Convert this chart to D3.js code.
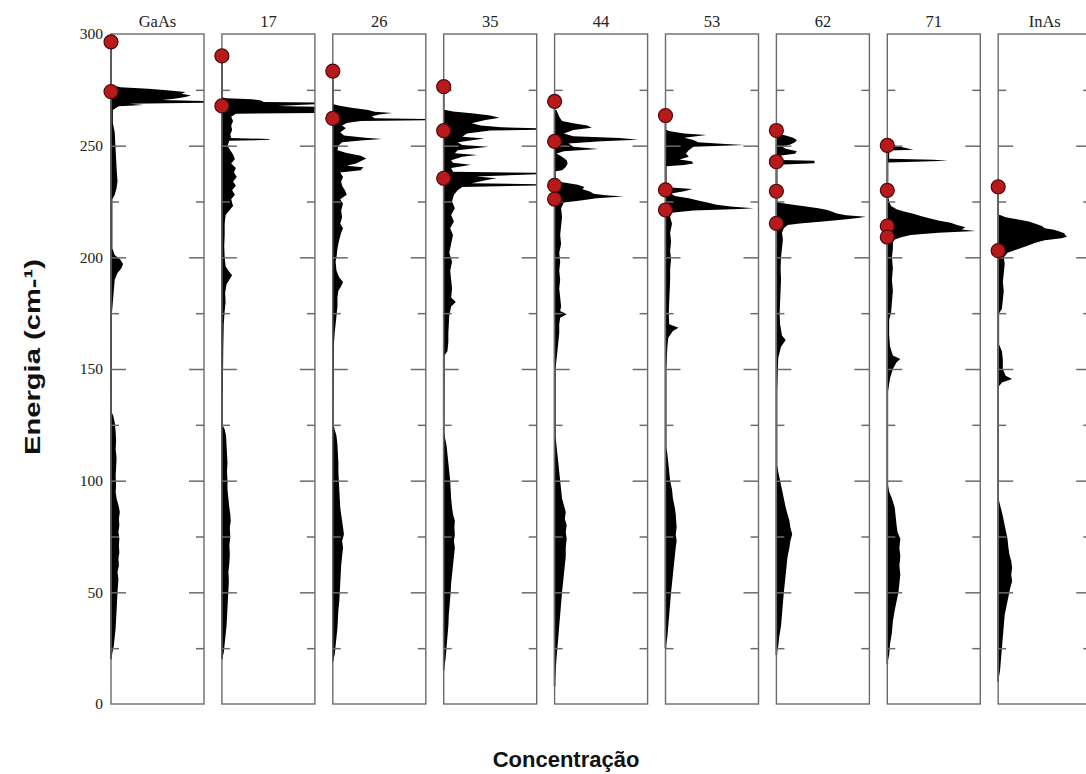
<!DOCTYPE html>
<html lang="pt">
<head>
<meta charset="UTF-8">
<title>Energia x Concentração</title>
<style>
  body { margin: 0; background: #fff; }
  .frame { fill: none; stroke: #6b6b6b; stroke-width: 1.4; }
  .ticks line { stroke: #6b6b6b; stroke-width: 1.5; }
  .dos { fill: #000; }
  .axisline { stroke: #000; stroke-width: 1.6; }
  .mode { fill: #b81a1c; stroke: #4e0808; stroke-width: 1.2; }
  .ylab text { font-family: "Liberation Serif", "Times New Roman", serif; font-size: 15.5px; fill: #222; }
  .ptitle { font-family: "Liberation Serif", "Times New Roman", serif; font-size: 16.5px; fill: #222; }
  .axis-title { font-family: "Liberation Sans", Arial, sans-serif; font-weight: bold; font-size: 22px; fill: #111; }
</style>
</head>
<body>
<script src="https://cdn.jsdelivr.net/npm/d3@7/dist/d3.min.js"></script>
<script>

// panel titles (concentration of In)
var labels = ["GaAs", "17", "26", "35", "44", "53", "62", "71", "InAs"];

// y axis labels / ticks (cm^-1)
var labelTicks = [0, 50, 100, 150, 200, 250, 300];
var majorTicks = [50, 100, 150, 200, 250];
var minorTicks = [25, 75, 125, 175, 225, 275];

// density of states, [energia, valor] (valor: fraction of panel width)
var dosGaAs = [[20,0],[22,0.01],[26,0.03],[30,0.04],[34,0.05],[38,0.055],[42,0.06],[46,0.065],[50,0.07],[53,0.075],[56,0.08],[59,0.07],[62,0.085],[65,0.08],[68,0.09],[71,0.085],[74,0.09],[77,0.08],[80,0.09],[83,0.085],[86,0.095],[89,0.08],[92,0.06],[95,0.05],[98,0.055],[102,0.05],[106,0.055],[110,0.06],[114,0.05],[118,0.055],[122,0.05],[126,0.04],[129,0.025],[131,0.004],[145,0.008],[175,0.01],[180,0.02],[185,0.03],[190,0.04],[193,0.07],[195,0.11],[197,0.13],[199,0.1],[201,0.04],[204,0.015],[226,0.015],[228,0.04],[231,0.06],[234,0.07],[237,0.065],[240,0.06],[244,0.055],[248,0.05],[252,0.045],[256,0.04],[260,0.02],[266,0.02],[267.6,0.08],[268.2,0.35],[268.8,0.2],[269.3,1.05],[270,1.05],[270.4,0.55],[271,0.68],[271.8,0.8],[272.5,0.86],[273.2,0.76],[274,0.8],[274.8,0.6],[275.5,0.4],[276.2,0.1],[277,0.01]];
var dos17 = [[20,0],[23,0.02],[27,0.03],[31,0.04],[35,0.05],[39,0.055],[43,0.06],[47,0.065],[51,0.07],[55,0.075],[59,0.07],[63,0.08],[67,0.085],[71,0.08],[75,0.09],[79,0.085],[82,0.095],[85,0.09],[88,0.08],[92,0.07],[96,0.06],[100,0.06],[104,0.055],[108,0.06],[112,0.055],[116,0.05],[120,0.045],[123,0.03],[125,0.004],[135,0.005],[140,0.01],[160,0.015],[170,0.02],[176,0.03],[180,0.04],[184,0.035],[188,0.05],[190,0.08],[192,0.11],[194,0.07],[196,0.04],[200,0.03],[205,0.025],[210,0.03],[215,0.03],[219,0.04],[221,0.08],[223,0.12],[226,0.1],[228,0.14],[230,0.11],[232,0.15],[234,0.12],[236,0.16],[238,0.13],[240,0.15],[242,0.1],[244,0.14],[246,0.12],[248,0.09],[250,0.06],[252.2,0.08],[252.6,0.52],[253,0.5],[253.4,0.1],[255,0.09],[257,0.11],[259,0.1],[261,0.12],[263,0.1],[264.3,0.15],[264.7,1.05],[267.4,1.05],[267.8,0.6],[268.3,0.87],[268.7,1.05],[269.3,1.05],[269.6,0.45],[270.2,0.42],[270.8,0.32],[271.2,0.05],[271.6,0.01]];
var dos26 = [[19,0],[22,0.02],[26,0.03],[30,0.04],[34,0.05],[38,0.055],[42,0.06],[46,0.07],[50,0.075],[54,0.08],[58,0.085],[62,0.09],[66,0.1],[70,0.11],[73,0.1],[76,0.12],[79,0.11],[82,0.1],[85,0.09],[88,0.08],[92,0.075],[96,0.07],[100,0.065],[104,0.06],[108,0.06],[112,0.055],[116,0.05],[120,0.04],[123,0.02],[125,0.004],[160,0.01],[166,0.02],[170,0.03],[174,0.04],[178,0.05],[182,0.05],[185,0.06],[187,0.09],[189,0.11],[191,0.07],[194,0.04],[198,0.03],[200,0.04],[204,0.05],[208,0.07],[211,0.09],[213,0.11],[215,0.08],[218,0.1],[221,0.09],[224,0.11],[226,0.08],[228,0.15],[230,0.13],[232,0.1],[234,0.09],[236,0.11],[238,0.08],[239,0.3],[240.3,0.33],[241,0.15],[242,0.25],[243,0.3],[244.3,0.36],[245.5,0.3],[246.7,0.15],[248,0.05],[250,0.06],[251.5,0.1],[252.3,0.3],[253,0.53],[253.6,0.35],[254.5,0.12],[256,0.08],[257.8,0.14],[259,0.1],[260.2,0.15],[261,0.3],[261.4,1.05],[261.9,1.05],[262.3,0.45],[263.2,0.42],[264,0.5],[264.6,0.64],[265.2,0.45],[266,0.38],[267,0.2],[268,0.06],[268.5,0.01]];
var dos35 = [[15,0],[20,0.02],[25,0.03],[30,0.04],[35,0.05],[40,0.055],[45,0.065],[50,0.075],[54,0.08],[58,0.09],[62,0.1],[66,0.11],[70,0.12],[73,0.11],[76,0.12],[79,0.115],[82,0.12],[85,0.1],[88,0.09],[92,0.08],[96,0.075],[100,0.07],[104,0.06],[108,0.05],[112,0.04],[116,0.03],[119,0.015],[122,0.004],[156,0.008],[158,0.04],[162,0.05],[166,0.05],[170,0.055],[174,0.06],[178,0.08],[180,0.13],[182,0.08],[186,0.09],[190,0.08],[194,0.07],[198,0.09],[202,0.06],[206,0.08],[210,0.1],[213,0.07],[216,0.11],[219,0.08],[222,0.12],[225,0.09],[228,0.11],[230,0.15],[231.5,0.2],[232.2,1.05],[232.7,1.05],[233.2,0.3],[234.5,0.45],[235.4,0.57],[236.2,0.35],[237.3,1.05],[237.8,1.05],[238.3,0.1],[240,0.08],[240.8,0.2],[241.5,0.29],[242.3,0.1],[243.5,0.08],[245,0.2],[245.8,0.36],[246.6,0.12],[248,0.15],[249.5,0.48],[250.3,0.2],[251.5,0.15],[253.2,0.44],[254,0.2],[255.5,0.25],[256.8,0.5],[257.2,1.05],[257.7,1.05],[258.2,0.62],[259,0.4],[260,0.3],[261.5,0.45],[262.5,0.6],[263.5,0.5],[264.5,0.3],[265.3,0.1],[266,0.02]];
var dos44 = [[8,0],[14,0.01],[20,0.02],[25,0.03],[30,0.04],[35,0.05],[40,0.06],[45,0.07],[50,0.08],[54,0.09],[58,0.1],[62,0.11],[66,0.12],[70,0.12],[74,0.13],[77,0.12],[80,0.13],[83,0.11],[86,0.12],[89,0.1],[92,0.08],[96,0.07],[100,0.06],[104,0.05],[108,0.04],[112,0.03],[116,0.02],[120,0.01],[150,0.01],[158,0.03],[162,0.04],[166,0.05],[170,0.05],[173,0.06],[174.5,0.13],[176,0.06],[178,0.07],[182,0.06],[186,0.05],[190,0.06],[194,0.05],[198,0.06],[202,0.05],[206,0.07],[210,0.06],[214,0.07],[218,0.08],[222,0.07],[224.5,0.1],[225.6,0.3],[226.5,0.45],[227.2,0.74],[227.8,0.55],[228.5,0.42],[229.5,0.38],[230.5,0.3],[231.5,0.32],[232.5,0.25],[233.5,0.1],[234.2,0.01],[238.5,0.01],[239,0.08],[240.5,0.12],[242,0.14],[243.5,0.13],[245,0.08],[246.5,0.02],[247.5,0.1],[248.5,0.47],[249.5,0.2],[251,0.15],[252,0.5],[252.6,0.9],[253.4,0.7],[254.2,0.2],[255.5,0.1],[257,0.2],[258,0.4],[259,0.35],[260,0.2],[261,0.08],[263,0.05],[266,0.02]];
var dos53 = [[25,0],[30,0.02],[35,0.03],[40,0.04],[45,0.05],[50,0.06],[54,0.07],[58,0.08],[62,0.09],[66,0.1],[70,0.11],[73,0.12],[76,0.11],[79,0.12],[82,0.115],[85,0.11],[88,0.1],[92,0.08],[96,0.07],[100,0.05],[104,0.04],[108,0.03],[112,0.02],[115,0.008],[150,0.008],[160,0.02],[164,0.03],[167,0.08],[168.5,0.14],[170,0.04],[175,0.035],[180,0.04],[185,0.045],[190,0.05],[195,0.05],[199,0.06],[203,0.05],[207,0.06],[211,0.05],[215,0.07],[218,0.05],[220,0.06],[221,0.3],[221.6,0.8],[222,0.95],[222.8,0.7],[223.6,0.55],[224.5,0.45],[225.5,0.35],[226.5,0.25],[227.5,0.1],[228.6,0.06],[229.6,0.2],[230.6,0.29],[231.3,0.05],[232,0.01],[240.8,0.01],[241.3,0.2],[242,0.3],[243,0.28],[243.8,0.15],[245,0.25],[246.5,0.22],[248,0.25],[249.5,0.3],[250.3,0.85],[250.9,0.6],[251.5,0.35],[252.5,0.3],[253.5,0.2],[254.8,0.44],[255.5,0.2],[256.5,0.05],[257,0.01]];
var dos62 = [[22,0],[26,0.02],[30,0.03],[35,0.05],[40,0.06],[45,0.07],[50,0.08],[54,0.09],[58,0.1],[62,0.11],[66,0.12],[70,0.14],[73,0.15],[76,0.17],[79,0.15],[82,0.14],[85,0.12],[88,0.1],[92,0.08],[96,0.06],[100,0.04],[104,0.02],[107,0.008],[140,0.008],[155,0.02],[160,0.05],[163,0.1],[165,0.06],[170,0.04],[175,0.035],[180,0.04],[185,0.045],[190,0.05],[195,0.045],[200,0.05],[204,0.06],[208,0.07],[211,0.06],[213,0.08],[214.5,0.12],[215.2,0.25],[216,0.5],[216.8,0.7],[217.6,0.88],[218.2,0.96],[218.8,0.75],[219.6,0.65],[220.4,0.6],[221.2,0.55],[222,0.45],[222.8,0.32],[223.6,0.18],[224.3,0.05],[225,0.01],[241.5,0.01],[242.1,0.41],[243.2,0.41],[243.6,0.05],[245.6,0.05],[246.4,0.2],[247.5,0.22],[248.6,0.1],[249.6,0.06],[250.5,0.15],[251.5,0.2],[252.5,0.22],[253.5,0.18],[254.5,0.1],[255.3,0.02]];
var dos71 = [[18,0],[22,0.02],[27,0.03],[32,0.05],[37,0.06],[42,0.08],[46,0.1],[50,0.12],[54,0.13],[58,0.14],[62,0.13],[66,0.14],[70,0.13],[74,0.14],[77,0.11],[80,0.1],[84,0.09],[88,0.08],[92,0.05],[95,0.02],[98,0.008],[140,0.008],[146,0.03],[150,0.06],[153,0.1],[154.5,0.14],[156,0.06],[160,0.03],[165,0.02],[172,0.02],[175,0.04],[180,0.05],[185,0.06],[190,0.05],[195,0.06],[200,0.05],[204,0.06],[207,0.06],[208,0.08],[209,0.15],[210,0.25],[211,0.55],[211.8,0.95],[212.5,0.8],[213.5,0.84],[214.5,0.75],[215.5,0.68],[216.5,0.55],[217.5,0.45],[218.5,0.36],[219.5,0.28],[220.5,0.18],[221.5,0.1],[223,0.04],[225,0.02],[227,0.01],[242.5,0.01],[242.8,0.3],[243.2,0.65],[243.7,0.5],[244.1,0.02],[247.8,0.02],[248.2,0.28],[249,0.2],[249.8,0.1],[250.5,0.01]];
var dosInAs = [[10,0],[15,0.02],[20,0.03],[25,0.04],[30,0.05],[35,0.06],[40,0.07],[44,0.09],[48,0.11],[52,0.13],[55,0.15],[58,0.14],[61,0.15],[64,0.14],[67,0.12],[70,0.11],[74,0.1],[78,0.08],[82,0.06],[86,0.04],[89,0.02],[92,0.005],[142,0.005],[144,0.04],[145.5,0.15],[147,0.08],[150,0.05],[154,0.05],[158,0.04],[161,0.01],[175,0.01],[177,0.04],[181,0.05],[185,0.06],[189,0.05],[193,0.06],[197,0.07],[200,0.06],[202,0.1],[203.5,0.2],[205,0.3],[206.5,0.4],[207.7,0.5],[208.5,0.68],[209.2,0.74],[210,0.72],[210.8,0.71],[211.6,0.66],[212.3,0.6],[213,0.5],[214,0.47],[215,0.4],[216,0.33],[217,0.2],[218,0.08],[219,0.02]];

// red markers (modes), energia in cm^-1
var modesGaAs = [296.5, 274.2];
var modes17 = [290.2, 267.8];
var modes26 = [283.4, 262.2];
var modes35 = [276.4, 256.7, 235.4];
var modes44 = [269.8, 251.9, 232.2, 226.1];
var modes53 = [263.5, 230.2, 221.2];
var modes62 = [256.8, 242.8, 229.6, 215.2];
var modes71 = [250.1, 230.0, 214.0, 209.1];
var modesInAs = [231.6, 203.0];

var panels = labels.map(function(l, i) {
    return {
        label: l,
        dos: [dosGaAs, dos17, dos26, dos35, dos44, dos53, dos62, dos71, dosInAs][i],
        modes: [modesGaAs, modes17, modes26, modes35, modes44, modes53, modes62, modes71, modesInAs][i]
    };
});

var W = 1086, H = 774;
var yTop = 34, yBottom = 704, left0 = 111, step = 110.9;

var svg = d3.select("body").append("svg")
    .attr("width", W)
    .attr("height", H);

var x = d3.scaleBand()
    .domain(labels)
    .range([left0, left0 + step * (labels.length - 0.1614)])
    .paddingInner(0.1614)
    .paddingOuter(0);

var y = d3.scaleLinear()
    .domain([0, 300])
    .range([yBottom, yTop]);

var pw = x.bandwidth();

var v = d3.scaleLinear()
    .domain([0, 1])
    .range([0, pw]);

var area = d3.area()
    .y(function(d) { return y(d[0]); })
    .x0(0)
    .x1(function(d) { return v(d[1]); });

var defs = svg.append("defs");
defs.append("clipPath").attr("id", "pclip")
    .append("rect")
    .attr("x", 0).attr("y", yTop)
    .attr("width", pw).attr("height", yBottom - yTop);

var g = svg.selectAll(".panel")
    .data(panels)
    .enter().append("g")
    .attr("class", "panel")
    .attr("transform", function(d) { return "translate(" + x(d.label) + ",0)"; });

// filled DOS
g.append("path")
    .attr("class", "dos")
    .attr("clip-path", "url(#pclip)")
    .attr("d", function(d) { return area(d.dos); });

// black line along the left edge, up to the highest mode
g.append("line")
    .attr("class", "axisline")
    .attr("x1", 0).attr("x2", 0)
    .attr("y1", function(d) { return y(d.dos[0][0]); })
    .attr("y2", function(d) { return y(d3.max(d.modes)); });

// frame
g.append("rect")
    .attr("class", "frame")
    .attr("x", 0).attr("y", yTop)
    .attr("width", pw).attr("height", yBottom - yTop);

// inward ticks, both sides
function ticks(sel, vals, len) {
    sel.append("g").attr("class", "ticks")
        .call(d3.axisLeft(y).tickValues(vals).tickSizeInner(-len).tickSizeOuter(0).tickFormat(""))
        .call(function(a) { a.select(".domain").remove(); });
    sel.append("g").attr("class", "ticks")
        .attr("transform", "translate(" + pw + ",0)")
        .call(d3.axisRight(y).tickValues(vals).tickSizeInner(-len).tickSizeOuter(0).tickFormat(""))
        .call(function(a) { a.select(".domain").remove(); });
}
ticks(g, majorTicks, 15);
ticks(g, minorTicks, 8);

// titles
g.append("text")
    .attr("class", "ptitle")
    .attr("x", pw / 2)
    .attr("y", 27)
    .attr("text-anchor", "middle")
    .text(function(d) { return d.label; });

// red modes
g.selectAll(".mode")
    .data(function(d) { return d.modes; })
    .enter().append("circle")
    .attr("class", "mode")
    .attr("cx", 0)
    .attr("cy", function(d) { return y(d); })
    .attr("r", 7);

// y tick labels
svg.append("g")
    .attr("class", "ylab")
    .attr("transform", "translate(" + left0 + ",0)")
    .call(d3.axisLeft(y).tickValues(labelTicks).tickSize(0).tickPadding(8))
    .call(function(a) { a.select(".domain").remove(); });

// axis titles (the y one is stretched along its length, as in the picture)
svg.append("text")
    .attr("class", "axis-title")
    .attr("transform", "translate(40,357) rotate(-90)")
    .attr("text-anchor", "middle")
    .attr("textLength", 196)
    .attr("lengthAdjust", "spacingAndGlyphs")
    .text("Energia (cm-¹)");

svg.append("text")
    .attr("class", "axis-title")
    .attr("x", 566)
    .attr("y", 767)
    .attr("text-anchor", "middle")
    .text("Concentração");

</script>
</body>
</html>
